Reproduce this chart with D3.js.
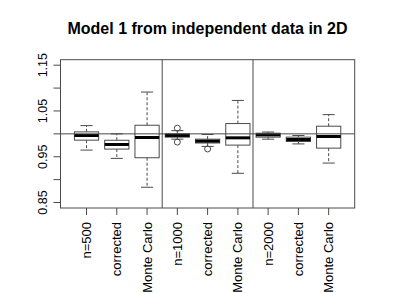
<!DOCTYPE html>
<html><head><meta charset="utf-8">
<script src="https://cdn.jsdelivr.net/npm/d3@7"></script>
<style>body{margin:0;background:#fff}svg{display:block}text{font-family:"Liberation Sans",Arial,Helvetica,sans-serif;fill:#000}</style>
</head><body>
<svg id="c" width="415" height="293"></svg>
<script>
const title = "Model 1 from independent data in 2D";
const categories = ["n=500","corrected","Monte Carlo","n=1000","corrected","Monte Carlo","n=2000","corrected","Monte Carlo"];
const whiskerLow  = [0.9645, 0.9464, 0.8833, 0.9884, 0.9725, 0.9138, 0.9884, 0.9780, 0.9362];
const q1          = [0.9862, 0.9667, 0.9478, 0.9928, 0.9800, 0.9754, 0.9928, 0.9833, 0.9688];
const medians     = [0.9964, 0.9768, 0.9920, 0.9965, 0.9840, 0.9913, 0.9978, 0.9877, 0.9942];
const q3          = [1.0043, 0.9860, 1.0188, 1.0000, 0.9884, 1.0225, 1.0014, 0.9928, 1.0167];
const whiskerHigh = [1.0180, 1.0000, 1.0913, 1.0070, 0.9985, 1.0730, 1.0040, 0.9964, 1.0420];
const outliers    = [[], [], [], [1.0125, 0.9820], [0.9670], [], [], [], []];
const yTicks = [0.85, 0.90, 0.95, 1.00, 1.05, 1.10, 1.15];
const yLabels = ["0.85", "", "0.95", "", "1.05", "", "1.15"];
const separators = [3.5, 6.5];
const refLine = 1.0;

const svg = d3.select("#c");
const L = 60.5, R = 354.7, T = 59.7, B = 208;
const x = d3.scaleLinear().domain([0.14, 9.86]).range([L, R]);
const y = d3.scaleLinear().domain([0.838, 1.162]).range([B, T]);
const lc = "#4a4a4a";

svg.append("text").attr("x", 207.5).attr("y", 34).attr("text-anchor", "middle")
  .style("font-size", "16px").style("font-weight", "bold").text(title);

const g = svg.append("g");
categories.forEach((c, i) => {
  const cx = x(i + 1), hw = x(i + 1.4) - cx, sw = x(i + 1.2) - cx;
  const bx = g.append("g");
  bx.append("line").attr("x1", cx).attr("x2", cx).attr("y1", y(q3[i])).attr("y2", y(whiskerHigh[i]))
    .attr("stroke", lc).attr("stroke-dasharray", "3,2");
  bx.append("line").attr("x1", cx).attr("x2", cx).attr("y1", y(q1[i])).attr("y2", y(whiskerLow[i]))
    .attr("stroke", lc).attr("stroke-dasharray", "3,2");
  [whiskerHigh[i], whiskerLow[i]].forEach(v => {
    bx.append("line").attr("x1", cx - sw).attr("x2", cx + sw).attr("y1", y(v)).attr("y2", y(v)).attr("stroke", lc);
  });
  bx.append("rect").attr("x", cx - hw).attr("width", 2 * hw)
    .attr("y", y(q3[i])).attr("height", y(q1[i]) - y(q3[i]))
    .attr("fill", "none").attr("stroke", lc);
  bx.append("line").attr("x1", cx - hw).attr("x2", cx + hw).attr("y1", y(medians[i])).attr("y2", y(medians[i]))
    .attr("stroke", "#000").attr("stroke-width", 3);
  outliers[i].forEach(v => {
    bx.append("circle").attr("cx", cx).attr("cy", y(v)).attr("r", 3)
      .attr("fill", "none").attr("stroke", lc);
  });
});

svg.append("line").attr("x1", L).attr("x2", R).attr("y1", y(refLine)).attr("y2", y(refLine)).attr("stroke", lc);
separators.forEach(s => svg.append("line").attr("x1", x(s)).attr("x2", x(s)).attr("y1", T).attr("y2", B).attr("stroke", lc));
svg.append("rect").attr("x", L).attr("y", T).attr("width", R - L).attr("height", B - T).attr("fill", "none").attr("stroke", lc);

const ya = svg.append("g");
ya.append("line").attr("x1", L).attr("x2", L).attr("y1", y(yTicks[0])).attr("y2", y(yTicks[yTicks.length - 1])).attr("stroke", lc);
yTicks.forEach((t, i) => {
  ya.append("line").attr("x1", L - 7).attr("x2", L).attr("y1", y(t)).attr("y2", y(t)).attr("stroke", lc);
  if (yLabels[i]) ya.append("text").attr("transform", `translate(46.5,${y(t)}) rotate(-90)`)
    .attr("text-anchor", "middle").style("font-size", "12.5px").text(yLabels[i]);
});

const xa = svg.append("g");
categories.forEach((c, i) => {
  const cx = x(i + 1);
  xa.append("line").attr("x1", cx).attr("x2", cx).attr("y1", B).attr("y2", B + 7).attr("stroke", lc);
  xa.append("text").attr("transform", `translate(${cx + 4.5},222) rotate(-90)`)
    .attr("text-anchor", "end").style("font-size", "13px").text(c);
});
</script>
</body></html>
